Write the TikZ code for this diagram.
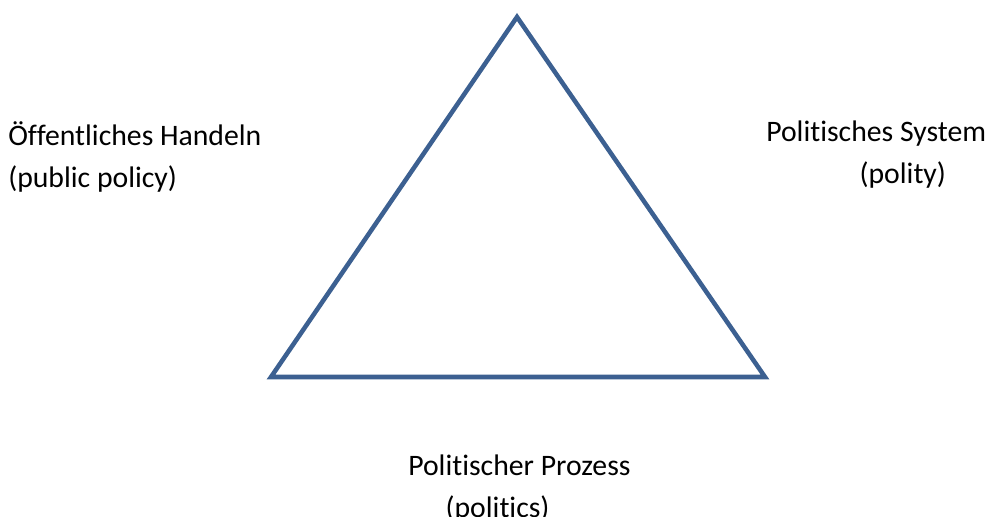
\documentclass[tikz,border=0pt]{standalone}
\usepackage{fontspec}
\setmainfont[Ligatures=NoCommon]{Carlito}
\usepackage{tikz}
\usetikzlibrary{positioning}
\definecolor{triblue}{RGB}{60,96,145}

\begin{document}
\begin{tikzpicture}[x=0.75pt,y=-0.75pt,
  label/.style={inner sep=0pt,align=left,anchor=north west,font=\fontsize{22.3}{31.5}\selectfont}]
\useasboundingbox (0,0) rectangle (985,517);

% Triangle corners
\coordinate (top) at (517,17);
\coordinate (left) at (271,377);
\coordinate (right) at (765,377);
\draw[triblue,line width=3.4pt,line join=miter] (top) -- (left) -- (right) -- cycle;

% Labels
\node[label] (policy) at (8,121) {Öffentliches Handeln\\(public policy)};
\node[label] (polity) at (766,121) {Politisches System\\\hspace*{70pt}(polity)};
\node[label] (politics) at (408,455) {Politischer Prozess\\\hspace*{28pt}(politics)};
\end{tikzpicture}
\end{document}
